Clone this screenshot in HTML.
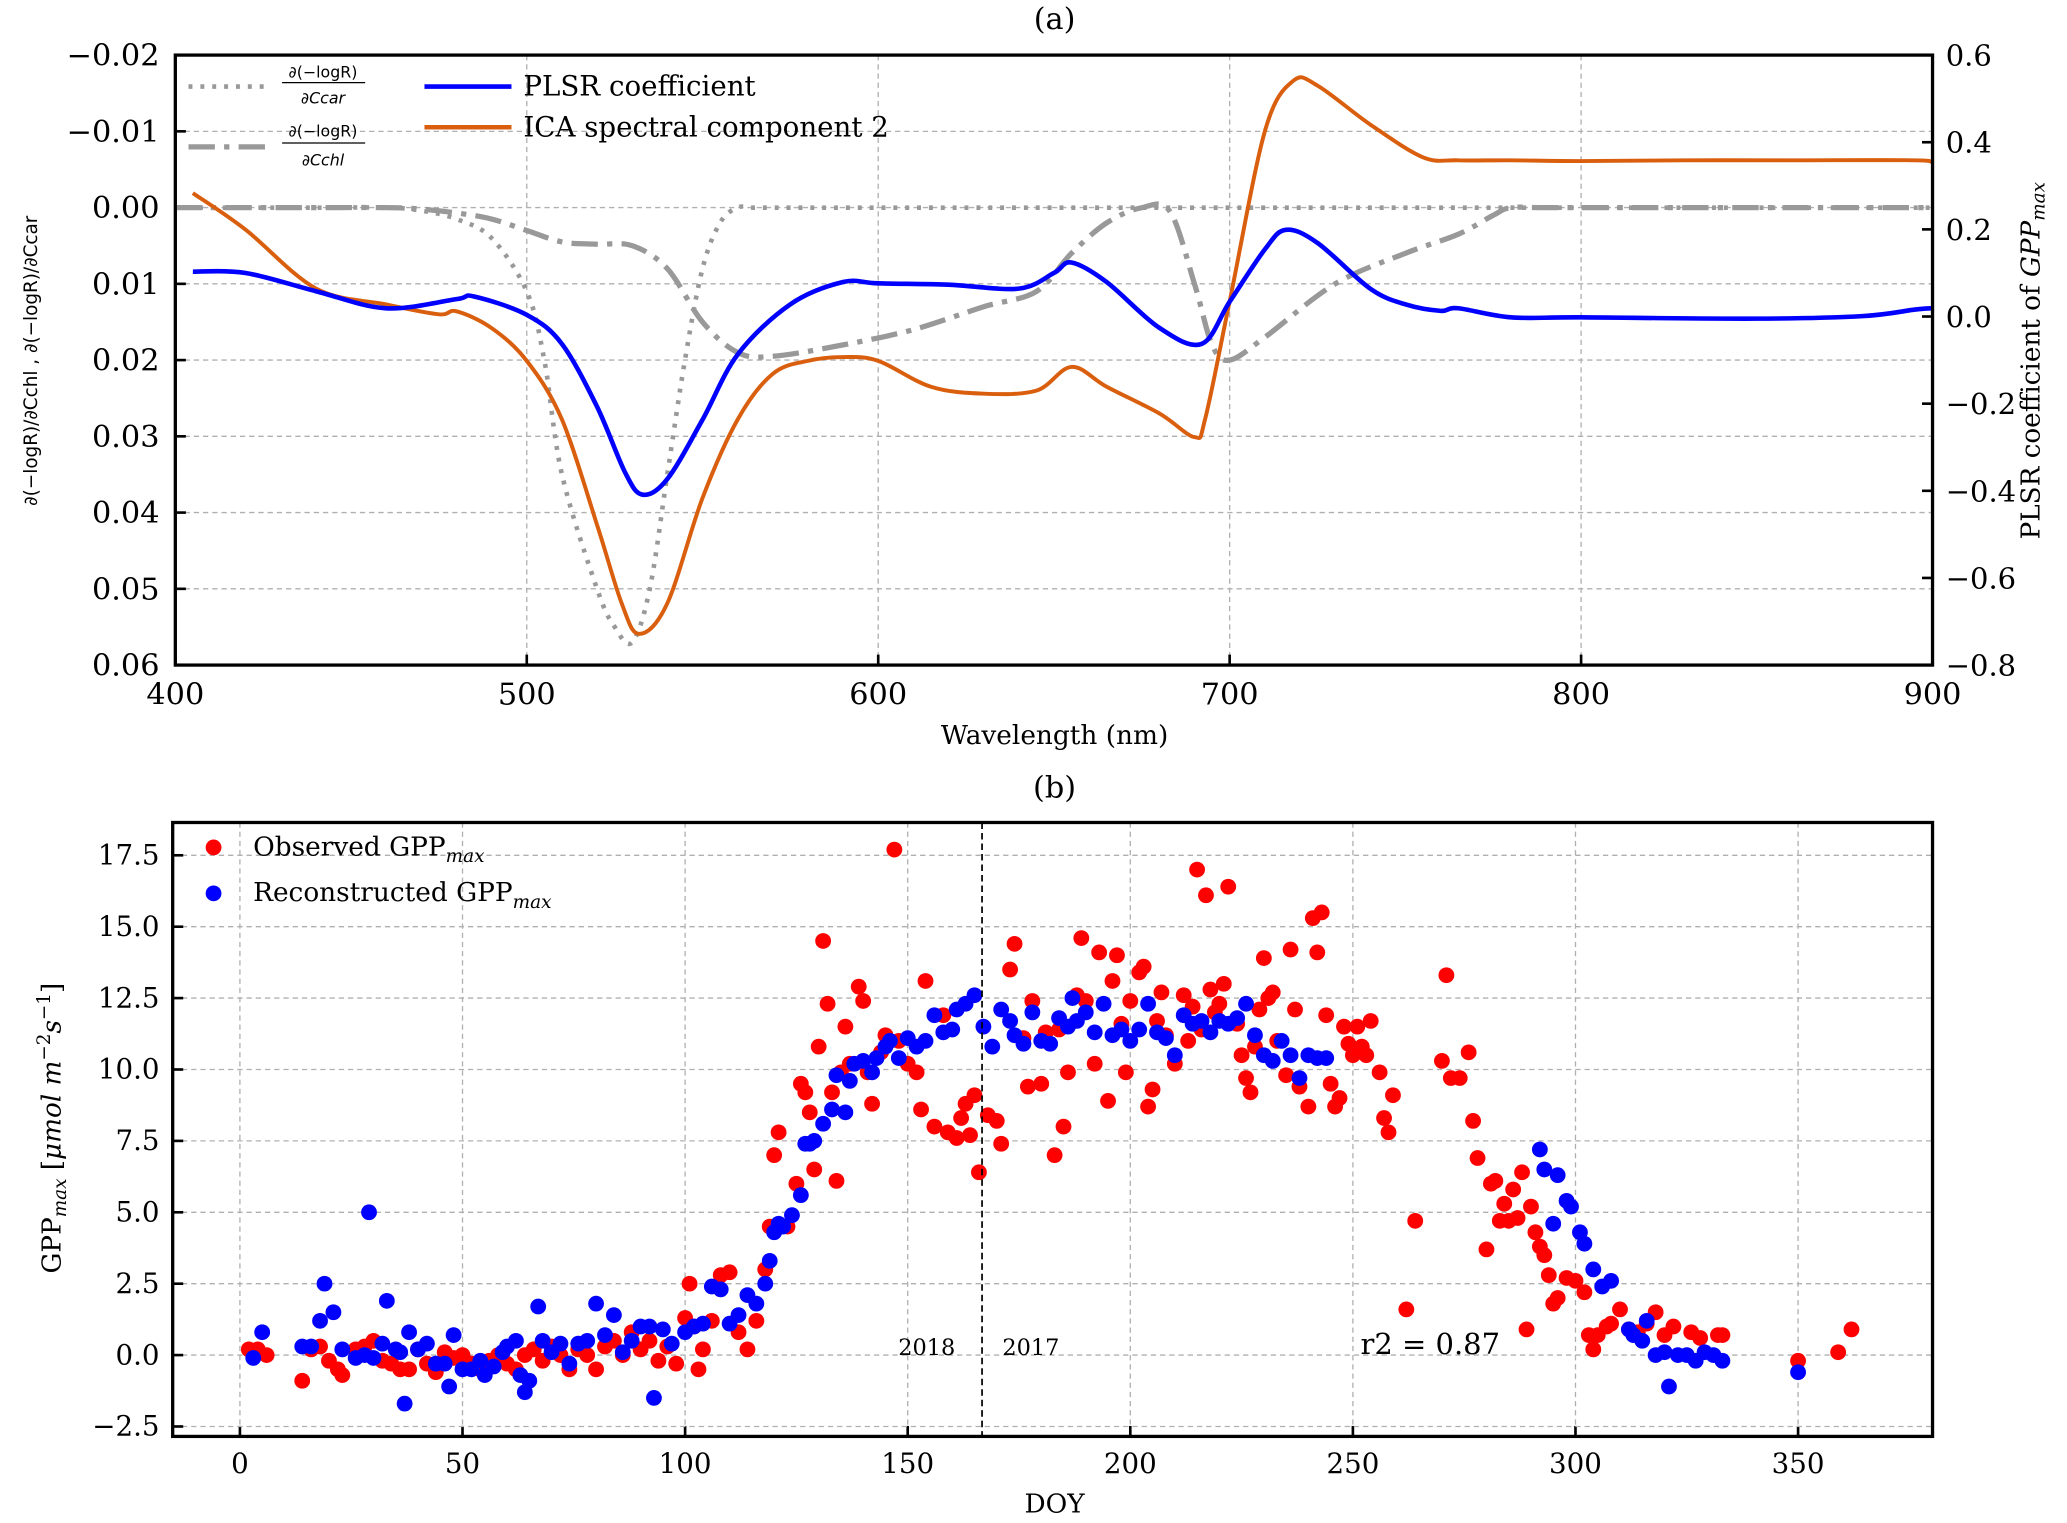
<!DOCTYPE html>
<html><head><meta charset="utf-8"><style>
html,body{margin:0;padding:0;background:#fff;}
svg{display:block;font-family:"DejaVu Serif","Liberation Serif",serif;}
</style></head><body>
<svg id="fig" width="2067" height="1523" viewBox="0 0 1568 1161" preserveAspectRatio="none" xmlns="http://www.w3.org/2000/svg">
<g id="topPanel"></g>
<g id="botPanel"></g>
</svg>
<script>
// ---------- Panel (a) data ----------
const wlTicks = [400,500,600,700,800,900];
const leftTicks = [-0.02,-0.01,0.00,0.01,0.02,0.03,0.04,0.05,0.06];
const rightTicks = [0.6,0.4,0.2,0.0,-0.2,-0.4,-0.6,-0.8];
const plsrWl = [405,420,440,460,480,485,500,510,520,528,533,540,550,560,575,590,600,620,640,650,655,665,680,692,700,710,716,725,740,750,760,765,780,800,850,880,895,900];
const plsrVal = [0.103,0.100,0.058,0.019,0.040,0.046,0.004,-0.063,-0.207,-0.358,-0.409,-0.373,-0.237,-0.087,0.028,0.079,0.076,0.073,0.064,0.100,0.124,0.079,-0.026,-0.063,0.034,0.154,0.199,0.169,0.064,0.028,0.013,0.019,-0.002,-0.002,-0.005,0.001,0.016,0.019];
const icaWl = [405,420,440,460,475,480,490,500,510,520,527,532,540,550,560,570,580,590,600,615,630,645,655,665,680,690,693,700,710,718,725,740,755,765,780,800,830,860,895,900];
const icaVal = [-0.0019,0.0029,0.0106,0.0127,0.014,0.0136,0.0158,0.0201,0.0278,0.0416,0.0519,0.0559,0.0519,0.0381,0.0278,0.0218,0.0201,0.0196,0.0201,0.0235,0.0244,0.024,0.0209,0.0235,0.027,0.0301,0.0278,0.0123,-0.010,-0.0166,-0.016,-0.0109,-0.0066,-0.0062,-0.0062,-0.0061,-0.0062,-0.0062,-0.0062,-0.0059];
const carWl = [400,420,440,460,470,480,490,500,505,510,520,525,530,535,540,545,550,555,560,565,580,620,700,800,900];
const carVal = [0,0,0,0,0.0004,0.0015,0.004,0.011,0.02,0.035,0.05,0.055,0.057,0.05,0.035,0.02,0.008,0.002,0,0,0,0,0,0,0];
const chlWl = [400,420,440,460,470,480,490,500,510,520,530,540,550,560,570,590,610,630,645,655,665,675,683,690,695,700,710,730,750,765,775,780,790,820,860,900];
const chlVal = [0,0,0,0,0.0002,0.0007,0.0015,0.003,0.0045,0.0048,0.005,0.008,0.015,0.019,0.0195,0.018,0.016,0.013,0.011,0.006,0.002,0,0.0005,0.01,0.018,0.02,0.017,0.01,0.006,0.0035,0.001,0,0,0,0,0];

// ---------- Panel (b) data ----------
const doyTicks = [0,50,100,150,200,250,300,350];
const gppTicks = [-2.5,0.0,2.5,5.0,7.5,10.0,12.5,15.0,17.5];
const obsDoy = [2,4,6,14,16,18,20,22,23,26,28,30,32,34,36,38,40,42,44,46,48,50,52,54,56,58,60,62,64,66,68,70,72,74,76,78,80,82,84,86,88,90,92,94,96,98,100,101,102,103,104,106,108,110,112,114,116,118,119,120,121,123,125,126,127,128,129,130,131,132,133,134,135,136,137,139,140,141,142,144,145,147,148,150,152,153,154,156,158,159,161,162,163,164,165,166,168,170,171,173,174,176,177,178,180,181,183,184,185,186,188,189,190,192,193,195,196,197,198,199,200,202,203,204,205,206,207,208,210,212,213,214,215,216,217,218,219,220,221,222,224,225,226,227,228,229,230,231,232,233,235,236,237,238,240,241,242,243,244,245,246,247,248,249,250,251,252,253,254,256,257,258,259,262,264,270,271,272,274,276,277,278,280,281,282,283,284,285,286,287,288,289,290,291,292,293,294,295,296,298,300,302,303,304,305,307,308,310,312,314,316,318,320,322,326,328,332,333,350,359,362];
const obsGpp = [0.2,0.2,0,-0.9,0.2,0.3,-0.2,-0.5,-0.7,0.2,0.3,0.5,-0.2,-0.3,-0.5,-0.5,0.2,-0.3,-0.6,0.1,-0.1,0,-0.3,-0.5,-0.2,0,-0.3,-0.5,0,0.2,-0.2,0.3,0,-0.5,0.2,0,-0.5,0.3,0.5,0,0.8,0.2,0.5,-0.2,0.3,-0.3,1.3,2.5,1.0,-0.5,0.2,1.2,2.8,2.9,0.8,0.2,1.2,3.0,4.5,7.0,7.8,4.5,6.0,9.5,9.2,8.5,6.5,10.8,14.5,12.3,9.2,6.1,9.9,11.5,10.2,12.9,12.4,9.9,8.8,10.6,11.2,17.7,11.0,10.2,9.9,8.6,13.1,8.0,11.9,7.8,7.6,8.3,8.8,7.7,9.1,6.4,8.4,8.2,7.4,13.5,14.4,11.1,9.4,12.4,9.5,11.3,7.0,11.4,8.0,9.9,12.6,14.6,12.4,10.2,14.1,8.9,13.1,14.0,11.6,9.9,12.4,13.4,13.6,8.7,9.3,11.7,12.7,11.2,10.2,12.6,11.0,12.2,17.0,11.4,16.1,12.8,12.0,12.3,13.0,16.4,11.6,10.5,9.7,9.2,10.8,12.1,13.9,12.5,12.7,11.0,9.8,14.2,12.1,9.4,8.7,15.3,14.1,15.5,11.9,9.5,8.7,9.0,11.5,10.9,10.5,11.5,10.8,10.5,11.7,9.9,8.3,7.8,9.1,1.6,4.7,10.3,13.3,9.7,9.7,10.6,8.2,6.9,3.7,6.0,6.1,4.7,5.3,4.7,5.8,4.8,6.4,0.9,5.2,4.3,3.8,3.5,2.8,1.8,2.0,2.7,2.6,2.2,0.7,0.2,0.7,1.0,1.1,1.6,0.9,0.8,1.1,1.5,0.7,1.0,0.8,0.6,0.7,0.7,-0.2,0.1,0.9];
const recDoy = [3,5,14,16,18,19,21,23,26,28,29,30,32,33,35,36,37,38,40,42,44,46,47,48,50,52,54,55,57,59,60,62,63,64,65,67,68,70,72,74,76,78,80,82,84,86,88,90,92,93,95,97,100,102,104,106,108,110,112,114,116,118,119,120,121,122,124,126,127,128,129,131,133,134,136,137,138,140,142,143,145,146,148,150,152,154,156,158,160,161,163,165,167,169,171,173,174,176,178,180,182,184,186,187,188,190,192,194,196,198,200,202,204,206,208,210,212,214,216,218,220,222,224,226,228,230,232,234,236,238,240,242,244,292,293,295,296,298,299,301,302,304,306,308,312,313,315,316,318,320,321,323,325,327,329,331,333,350];
const recGpp = [-0.1,0.8,0.3,0.3,1.2,2.5,1.5,0.2,-0.1,0,5.0,-0.1,0.4,1.9,0.2,0.1,-1.7,0.8,0.2,0.4,-0.3,-0.3,-1.1,0.7,-0.5,-0.5,-0.2,-0.7,-0.4,0.1,0.3,0.5,-0.7,-1.3,-0.9,1.7,0.5,0.1,0.4,-0.3,0.4,0.5,1.8,0.7,1.4,0.1,0.5,1.0,1.0,-1.5,0.9,0.4,0.8,1.0,1.1,2.4,2.3,1.1,1.4,2.1,1.8,2.5,3.3,4.3,4.6,4.5,4.9,5.6,7.4,7.4,7.5,8.1,8.6,9.8,8.5,9.6,10.2,10.3,9.9,10.4,10.8,11.0,10.4,11.1,10.8,11.0,11.9,11.3,11.4,12.1,12.3,12.6,11.5,10.8,12.1,11.7,11.2,10.9,12.0,11.0,10.9,11.8,11.5,12.5,11.7,12.0,11.3,12.3,11.2,11.4,11.0,11.4,12.3,11.3,11.1,10.5,11.9,11.6,11.7,11.3,11.7,11.6,11.8,12.3,11.2,10.5,10.3,11.0,10.5,9.7,10.5,10.4,10.4,7.2,6.5,4.6,6.3,5.4,5.2,4.3,3.9,3.0,2.4,2.6,0.9,0.7,0.5,1.2,0,0.1,-1.1,0,0,-0.2,0.1,0,-0.2,-0.6];

const NS = "http://www.w3.org/2000/svg";
function mk(parent, tag, attrs, text){
  const e = document.createElementNS(NS, tag);
  for (const k in attrs) e.setAttribute(k, attrs[k]);
  if (text !== undefined) e.textContent = text;
  parent.appendChild(e);
  return e;
}
const topG = document.getElementById('topPanel');
const botG = document.getElementById('botPanel');

// ---------- axes (a) ----------
const A = {l:133, r:1466, t:42, b:507};
const ax = w => A.l + (w-400)/500*(A.r-A.l);
const ayL = v => A.t + (v+0.02)/0.08*(A.b-A.t);
const ayR = v => A.t + (0.6-v)/1.4*(A.b-A.t);

wlTicks.forEach(w=>{
  if (w>400 && w<900) {
    const g = mk(topG,'line',{x1:ax(w),x2:ax(w),y1:A.t,y2:A.b,stroke:'#b0b0b0','stroke-width':1,'stroke-dasharray':'4,3'});
    
    
  }
  const tk = mk(topG,'line',{x1:ax(w),x2:ax(w),y1:A.b,y2:A.b-8,stroke:'#000','stroke-width':2});
  
  
  const t = mk(topG,'text',{x:ax(w),y:A.b+30,'text-anchor':'middle','font-size':23},String(w));
  
  
});
leftTicks.forEach(v=>{
  const y = ayL(v);
  if (v>-0.02 && v<0.06) {
    const g = mk(topG,'line',{x1:A.l,x2:A.r,y1:y,y2:y,stroke:'#b0b0b0','stroke-width':1,'stroke-dasharray':'4,3'});
    
    
  }
  const tk = mk(topG,'line',{x1:A.l,x2:A.l+8,y1:y,y2:y,stroke:'#000','stroke-width':2});
  
  
  const t = mk(topG,'text',{x:A.l-12,y:y+8,'text-anchor':'end','font-size':23},(v<0?'\u2212':'')+Math.abs(v).toFixed(2));
  
  
});
rightTicks.forEach(v=>{
  const y = ayR(v);
  const tk = mk(topG,'line',{x1:A.r,x2:A.r-8,y1:y,y2:y,stroke:'#000','stroke-width':2});
  
  
  const t = mk(topG,'text',{x:A.r+10,y:y+8,'text-anchor':'start','font-size':22},(v<0?'\u2212':'')+Math.abs(v).toFixed(1));
  
  
});

function linePath(xs, ys, fx, fy){
  const P = xs.map((x,i)=>[fx(x), fy(ys[i])]);
  let d = 'M'+P[0][0].toFixed(1)+','+P[0][1].toFixed(1);
  for (let i=0;i<P.length-1;i++){
    const p0 = P[Math.max(0,i-1)], p1 = P[i], p2 = P[i+1], p3 = P[Math.min(P.length-1,i+2)];
    const c1x = p1[0]+(p2[0]-p0[0])/6, c1y = p1[1]+(p2[1]-p0[1])/6;
    const c2x = p2[0]-(p3[0]-p1[0])/6, c2y = p2[1]-(p3[1]-p1[1])/6;
    d += ' C'+c1x.toFixed(1)+','+c1y.toFixed(1)+' '+c2x.toFixed(1)+','+c2y.toFixed(1)+' '+p2[0].toFixed(1)+','+p2[1].toFixed(1);
  }
  return d;
}
const carP = mk(topG,'path',{d:linePath(carWl,carVal,ax,ayL),fill:'none',stroke:'#999','stroke-width':3.5,'stroke-dasharray':'3,6'});


const chlP = mk(topG,'path',{d:linePath(chlWl,chlVal,ax,ayL),fill:'none',stroke:'#999','stroke-width':4,'stroke-dasharray':'20,7,4,7'});


const icaP = mk(topG,'path',{d:linePath(icaWl,icaVal,ax,ayL),fill:'none',stroke:'#d95f0e','stroke-width':3,'stroke-linejoin':'round'});


const plP = mk(topG,'path',{d:linePath(plsrWl,plsrVal,ax,ayR),fill:'none',stroke:'#0000ff','stroke-width':3.5,'stroke-linejoin':'round'});



const frA = mk(topG,'rect',{x:A.l,y:A.t,width:A.r-A.l,height:A.b-A.t,fill:'none',stroke:'#000','stroke-width':2.5});



// legend (a)
const lg = mk(topG,'g',{});


mk(lg,'line',{x1:143,x2:205,y1:66,y2:66,stroke:'#999','stroke-width':3.5,'stroke-dasharray':'3,6'});
mk(lg,'text',{x:245,y:59,'text-anchor':'middle','font-size':12,'font-family':'DejaVu Sans, sans-serif'},'\u2202(\u2212logR)');
mk(lg,'line',{x1:214,x2:277,y1:63,y2:63,stroke:'#000','stroke-width':1});
mk(lg,'text',{x:245,y:79,'text-anchor':'middle','font-size':12,'font-family':'DejaVu Sans, sans-serif','font-style':'italic'},'\u2202Ccar');
mk(lg,'line',{x1:143,x2:205,y1:112,y2:112,stroke:'#999','stroke-width':4,'stroke-dasharray':'20,7,4,7'});
mk(lg,'text',{x:245,y:104,'text-anchor':'middle','font-size':12,'font-family':'DejaVu Sans, sans-serif'},'\u2202(\u2212logR)');
mk(lg,'line',{x1:214,x2:277,y1:109,y2:109,stroke:'#000','stroke-width':1});
mk(lg,'text',{x:245,y:126,'text-anchor':'middle','font-size':12,'font-family':'DejaVu Sans, sans-serif','font-style':'italic'},'\u2202Cchl');
mk(lg,'line',{x1:322,x2:388,y1:66,y2:66,stroke:'#0000ff','stroke-width':3.5});
mk(lg,'text',{x:397,y:73,'font-size':21},'PLSR coefficient');
mk(lg,'line',{x1:322,x2:388,y1:97,y2:97,stroke:'#d95f0e','stroke-width':3.5});
mk(lg,'text',{x:397,y:104,'font-size':21},'ICA spectral component 2');

const ta = mk(topG,'text',{x:800,y:22,'text-anchor':'middle','font-size':23},'(a)');


const xla = mk(topG,'text',{x:800,y:567,'text-anchor':'middle','font-size':20},'Wavelength (nm)');


const yra = mk(topG,'text',{x:0,y:0,'text-anchor':'middle','font-size':20,transform:'translate(1547,275) rotate(-90)'});


yra.innerHTML = 'PLSR coefficient of <tspan font-style="italic">GPP<tspan font-size="14" dy="4">max</tspan></tspan>';
const yla = mk(topG,'text',{x:0,y:0,'text-anchor':'middle','font-size':14,'font-family':'DejaVu Sans, sans-serif',transform:'translate(28,275) rotate(-90)'});


yla.textContent = '\u2202(\u2212logR)/\u2202Cchl ,  \u2202(\u2212logR)/\u2202Ccar';

// ---------- axes (b) ----------
const B = {l:131, r:1466, t:627, b:1095};
const bx = d => 182 + d*(1364-182)/350;
const by = v => 1033 - v*(1033-652)/17.5;

doyTicks.forEach(d=>{
  const g = mk(botG,'line',{x1:bx(d),x2:bx(d),y1:B.t,y2:B.b,stroke:'#b0b0b0','stroke-width':1,'stroke-dasharray':'4,3'});
  
  
  const tk = mk(botG,'line',{x1:bx(d),x2:bx(d),y1:B.b,y2:B.b-8,stroke:'#000','stroke-width':2});
  
  
  const t = mk(botG,'text',{x:bx(d),y:B.b+28,'text-anchor':'middle','font-size':21},String(d));
  
  
});
gppTicks.forEach(v=>{
  const y = by(v);
  const g = mk(botG,'line',{x1:B.l,x2:B.r,y1:y,y2:y,stroke:'#b0b0b0','stroke-width':1,'stroke-dasharray':'4,3'});
  
  
  const tk = mk(botG,'line',{x1:B.l,x2:B.l+8,y1:y,y2:y,stroke:'#000','stroke-width':2});
  
  
  const t = mk(botG,'text',{x:B.l-10,y:y+7,'text-anchor':'end','font-size':21},(v<0?'\u2212':'')+Math.abs(v).toFixed(1));
  
  
});
obsDoy.forEach((d,i)=>{
  const c = mk(botG,'circle',{cx:bx(d),cy:by(obsGpp[i]),r:6,fill:'#ff0000'});
  
  
});
recDoy.forEach((d,i)=>{
  const c = mk(botG,'circle',{cx:bx(d),cy:by(recGpp[i]),r:6,fill:'#0000ff'});
  
  
});
const vl = mk(botG,'line',{x1:bx(166.7),x2:bx(166.7),y1:B.t,y2:B.b,stroke:'#000','stroke-width':1.3,'stroke-dasharray':'5,3'});


const t18 = mk(botG,'text',{x:703,y:1033,'text-anchor':'middle','font-size':17},'2018');


const t17 = mk(botG,'text',{x:782,y:1033,'text-anchor':'middle','font-size':17},'2017');


const r2 = mk(botG,'text',{x:1085,y:1032,'text-anchor':'middle','font-size':22},'r2 = 0.87');



const frB = mk(botG,'rect',{x:B.l,y:B.t,width:B.r-B.l,height:B.b-B.t,fill:'none',stroke:'#000','stroke-width':2.5});



const lb = mk(botG,'g',{});


mk(lb,'circle',{cx:162,cy:646,r:6,fill:'#ff0000'});
mk(lb,'text',{x:192,y:652,'font-size':20}).innerHTML='Observed GPP<tspan font-size="14" dy="5" font-style="italic">max</tspan>';
mk(lb,'circle',{cx:162,cy:681,r:6,fill:'#0000ff'});
mk(lb,'text',{x:192,y:687,'font-size':20}).innerHTML='Reconstructed GPP<tspan font-size="14" dy="5" font-style="italic">max</tspan>';

const tb = mk(botG,'text',{x:800,y:608,'text-anchor':'middle','font-size':23},'(b)');


const xlb = mk(botG,'text',{x:800,y:1153,'text-anchor':'middle','font-size':20},'DOY');


const ylb = mk(botG,'text',{x:0,y:0,'text-anchor':'middle','font-size':20,transform:'translate(46,860) rotate(-90)'});


ylb.innerHTML = 'GPP<tspan font-size="14" dy="4" font-style="italic">max</tspan><tspan dy="-4"> [</tspan><tspan font-style="italic">\u03bcmol m</tspan><tspan font-size="14" dy="-8">\u22122</tspan><tspan font-style="italic" dy="8">s</tspan><tspan font-size="14" dy="-8">\u22121</tspan><tspan dy="8">]</tspan>';
</script>
</body></html>
